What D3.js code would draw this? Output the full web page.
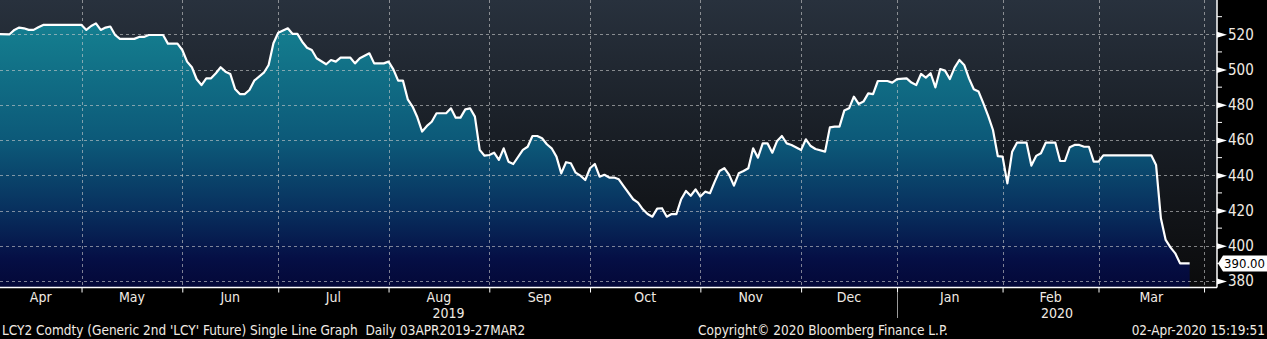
<!DOCTYPE html>
<html>
<head>
<meta charset="utf-8">
<script src="https://cdn.jsdelivr.net/npm/d3@7"></script>
<style>
  html, body { margin: 0; padding: 0; background: #000; }
  svg { display: block; }
  text { font-family: "Liberation Sans Narrow", "DejaVu Sans Condensed", "Arial Narrow", sans-serif; }
</style>
</head>
<body>
<div id="chart"></div>
<script>
// LCY2 Comdty daily closes (trading days)
const dates = [
  "2019-04-03","2019-04-08","2019-04-09","2019-04-10","2019-04-11","2019-04-12","2019-04-15","2019-04-16","2019-04-17",
  "2019-05-01","2019-05-02","2019-05-03","2019-05-07","2019-05-08","2019-05-09","2019-05-10","2019-05-13","2019-05-14",
  "2019-05-17","2019-05-20","2019-05-21","2019-05-22","2019-05-28","2019-05-29","2019-05-31",
  "2019-06-03","2019-06-04","2019-06-05","2019-06-06","2019-06-07","2019-06-10","2019-06-11","2019-06-12","2019-06-13",
  "2019-06-14","2019-06-17","2019-06-18","2019-06-19","2019-06-20","2019-06-21","2019-06-24","2019-06-26","2019-06-27","2019-06-28",
  "2019-07-01","2019-07-03","2019-07-04","2019-07-05","2019-07-08","2019-07-09","2019-07-10","2019-07-11","2019-07-15",
  "2019-07-16","2019-07-17","2019-07-18","2019-07-22","2019-07-23","2019-07-24","2019-07-26","2019-07-29","2019-07-31",
  "2019-08-01","2019-08-02","2019-08-05","2019-08-06","2019-08-07","2019-08-08","2019-08-09","2019-08-12","2019-08-13",
  "2019-08-14","2019-08-15","2019-08-19","2019-08-20","2019-08-21","2019-08-22","2019-08-23","2019-08-27","2019-08-28",
  "2019-08-29","2019-08-30",
  "2019-09-02","2019-09-03","2019-09-04","2019-09-05","2019-09-06","2019-09-09","2019-09-11","2019-09-12","2019-09-13",
  "2019-09-16","2019-09-17","2019-09-18","2019-09-19","2019-09-20","2019-09-23","2019-09-24","2019-09-25","2019-09-26",
  "2019-09-27","2019-09-30",
  "2019-10-01","2019-10-02","2019-10-03","2019-10-04","2019-10-07","2019-10-08","2019-10-09","2019-10-10","2019-10-14",
  "2019-10-15","2019-10-16","2019-10-17","2019-10-18","2019-10-21","2019-10-22","2019-10-23","2019-10-24","2019-10-25",
  "2019-10-28","2019-10-29","2019-10-30","2019-10-31",
  "2019-11-01","2019-11-04","2019-11-05","2019-11-06","2019-11-07","2019-11-08","2019-11-11","2019-11-12","2019-11-13",
  "2019-11-14","2019-11-15","2019-11-18","2019-11-19","2019-11-20","2019-11-21","2019-11-22","2019-11-25","2019-11-26",
  "2019-11-27","2019-11-28",
  "2019-12-02","2019-12-03","2019-12-04","2019-12-05","2019-12-09","2019-12-10","2019-12-11","2019-12-12","2019-12-13",
  "2019-12-16","2019-12-17","2019-12-18","2019-12-19","2019-12-20","2019-12-23","2019-12-24","2019-12-30","2019-12-31",
  "2020-01-02","2020-01-06","2020-01-07","2020-01-08","2020-01-09","2020-01-10","2020-01-13","2020-01-14","2020-01-15",
  "2020-01-16","2020-01-17","2020-01-20","2020-01-21","2020-01-22","2020-01-23","2020-01-24","2020-01-27","2020-01-28",
  "2020-01-29","2020-01-30","2020-01-31",
  "2020-02-03","2020-02-04","2020-02-05","2020-02-06","2020-02-10","2020-02-11","2020-02-12","2020-02-13","2020-02-14",
  "2020-02-18","2020-02-19","2020-02-20","2020-02-21","2020-02-24","2020-02-25","2020-02-26","2020-02-27","2020-02-28",
  "2020-03-02","2020-03-03","2020-03-17","2020-03-18","2020-03-19","2020-03-20","2020-03-23","2020-03-24","2020-03-25",
  "2020-03-27"
];
const prices = [
  520.2,520.0,522.5,523.8,523.4,522.5,522.5,524.0,525.3,
  525.3,522.5,524.7,526.2,522.5,523.8,524.4,519.6,517.4,
  517.4,518.5,518.5,519.6,519.6,514.7,514.7,
  511.1,504.5,501.3,494.5,491.2,495.0,495.0,497.9,501.3,
  498.8,497.5,489.0,486.1,486.1,488.4,493.7,498.2,502.6,514.9,
  520.9,523.4,520.2,520.2,515.8,512.4,511.1,506.4,503.0,
  505.4,504.5,506.8,506.8,503.5,506.4,509.2,503.5,503.5,
  504.5,500.1,493.7,493.7,483.1,479.0,472.9,464.8,468.0,
  470.4,475.2,475.2,478.0,472.7,472.7,477.4,478.0,473.3,
  454.4,451.1,
  451.5,452.8,448.7,455.3,447.7,446.4,454.4,456.2,462.3,
  462.3,461.0,457.6,455.3,450.6,441.1,447.4,446.8,441.5,
  439.8,437.3,
  444.0,446.4,439.2,440.3,438.7,438.7,437.7,433.9,426.4,
  424.5,420.7,418.0,416.5,421.1,421.3,416.5,418.0,418.0,
  426.4,431.1,428.4,432.0,
  427.9,430.7,429.8,436.4,442.4,444.0,440.2,434.1,441.1,
  442.4,444.0,455.3,450.0,458.1,458.1,452.8,459.5,462.3,
  458.1,457.2,
  454.4,460.4,456.6,454.9,453.4,467.2,467.6,467.6,476.7,
  478.0,484.6,480.5,481.8,486.5,486.1,493.5,493.5,492.6,
  494.6,495.0,492.6,491.2,497.5,495.4,497.9,489.9,500.3,
  499.4,494.6,501.1,505.4,502.6,495.0,488.8,487.5,480.8,
  473.7,465.7,450.9,
  450.6,435.4,453.4,458.5,458.5,445.5,451.0,452.5,458.5,
  458.5,448.1,448.1,455.9,457.2,457.2,456.2,456.2,447.7,
  447.7,451.3,451.3,445.8,415.6,403.3,399.1,395.7,390.0,
  390.0
];
// market holidays left out of the trading-day axis
const holidays = ["2019-04-19","2019-04-22","2019-05-06","2019-05-27","2019-08-26","2019-12-25","2019-12-26","2020-01-01"];
const monthLabels = ["Apr","May","Jun","Jul","Aug","Sep","Oct","Nov","Dec","Jan","Feb","Mar"];
const yearLabels = ["2019","2020"];
const yTicks = [380, 400, 420, 440, 460, 480, 500, 520];
const yMinorTicks = [390, 410, 430, 450, 470, 490, 510, 530, 540];

const W = 1267, H = 339;
const PLOT = { LEFT: 0, RIGHT: 1217, TOP: 0, BOTTOM: 287.5 };
const STEP = 4.797;
const TEXT = "#f1ebe4";

const fmt = d3.timeFormat("%Y-%m-%d");

// trading-day calendar (weekdays minus holidays)
const days = d3.timeDay.range(new Date(2019, 3, 3), new Date(2020, 3, 4))
  .filter(d => d.getDay() !== 0 && d.getDay() !== 6)
  .map(fmt)
  .filter(d => !holidays.includes(d));

const data = dates.map((d, i) => ({ date: d, value: prices[i] }));

const x = d3.scalePoint()
  .domain(days)
  .range([-4.8, -4.8 + (days.length - 1) * STEP]);

const y = d3.scaleLinear()
  .domain([380, 520])
  .range([281, 34.3]);

// first trading day of every month
const monthStarts = days.filter((d, i) => i > 0 && d.slice(5, 7) !== days[i - 1].slice(5, 7));

const svg = d3.select("#chart").append("svg")
  .attr("width", W)
  .attr("height", H);

const defs = svg.append("defs");

const bg = defs.append("linearGradient").attr("id", "bg")
  .attr("gradientUnits", "userSpaceOnUse")
  .attr("x1", 0).attr("y1", PLOT.TOP).attr("x2", 0).attr("y2", PLOT.BOTTOM);
bg.append("stop").attr("offset", 0).attr("stop-color", "#28313d");
bg.append("stop").attr("offset", 0.5).attr("stop-color", "#181d24");
bg.append("stop").attr("offset", 1).attr("stop-color", "#0b0b0c");

const fill = defs.append("linearGradient").attr("id", "fill")
  .attr("gradientUnits", "userSpaceOnUse")
  .attr("x1", 0).attr("y1", PLOT.TOP).attr("x2", 0).attr("y2", PLOT.BOTTOM);
fill.append("stop").attr("offset", 0).attr("stop-color", "#178597");
fill.append("stop").attr("offset", 0.15).attr("stop-color", "#13798c");
fill.append("stop").attr("offset", 0.5).attr("stop-color", "#0c5878");
fill.append("stop").attr("offset", 0.73).attr("stop-color", "#08305e");
fill.append("stop").attr("offset", 0.9).attr("stop-color", "#050f45");
fill.append("stop").attr("offset", 1).attr("stop-color", "#040838");

defs.append("clipPath").attr("id", "clip")
  .append("rect")
  .attr("x", PLOT.LEFT).attr("y", PLOT.TOP)
  .attr("width", PLOT.RIGHT - PLOT.LEFT).attr("height", PLOT.BOTTOM - PLOT.TOP);

svg.append("rect").attr("width", W).attr("height", H).attr("fill", "#000");
svg.append("rect")
  .attr("x", PLOT.LEFT).attr("y", PLOT.TOP)
  .attr("width", PLOT.RIGHT - PLOT.LEFT).attr("height", PLOT.BOTTOM - PLOT.TOP)
  .attr("fill", "url(#bg)");

const plot = svg.append("g").attr("clip-path", "url(#clip)");

const area = d3.area()
  .x(d => x(d.date))
  .y0(PLOT.BOTTOM)
  .y1(d => y(d.value));

const line = d3.line()
  .x(d => x(d.date))
  .y(d => y(d.value));

plot.append("path")
  .datum(data)
  .attr("d", area)
  .attr("fill", "url(#fill)");

// grid
plot.append("g")
  .selectAll("line")
  .data(yTicks)
  .join("line")
  .attr("x1", PLOT.LEFT).attr("x2", PLOT.RIGHT)
  .attr("y1", d => Math.round(y(d)) + 0.5).attr("y2", d => Math.round(y(d)) + 0.5)
  .attr("stroke", "rgba(205,205,205,0.6)")
  .attr("stroke-dasharray", "3,3");

plot.append("g")
  .selectAll("line")
  .data(monthStarts)
  .join("line")
  .attr("x1", d => Math.round(x(d)) + 0.5).attr("x2", d => Math.round(x(d)) + 0.5)
  .attr("y1", PLOT.TOP).attr("y2", PLOT.BOTTOM)
  .attr("stroke", "rgba(205,205,205,0.6)")
  .attr("stroke-dasharray", "3,3");

plot.append("path")
  .datum(data)
  .attr("d", line)
  .attr("fill", "none")
  .attr("stroke", "#fff")
  .attr("stroke-width", 2.2)
  .attr("stroke-linejoin", "round");

// axis frame
svg.append("line")
  .attr("x1", PLOT.LEFT).attr("x2", PLOT.RIGHT)
  .attr("y1", PLOT.BOTTOM).attr("y2", PLOT.BOTTOM)
  .attr("stroke", "#fff").attr("stroke-width", 1.5);
svg.append("line")
  .attr("x1", PLOT.RIGHT).attr("x2", PLOT.RIGHT)
  .attr("y1", PLOT.TOP).attr("y2", PLOT.BOTTOM)
  .attr("stroke", "#fff").attr("stroke-width", 1.5);

// right axis
const yAxis = svg.append("g")
  .attr("transform", `translate(${PLOT.RIGHT},0)`)
  .call(d3.axisRight(y).tickValues(yTicks).tickSize(0).tickPadding(11).tickFormat(d3.format("d")));
yAxis.select(".domain").remove();
yAxis.selectAll(".tick text")
  .attr("fill", TEXT)
  .attr("font-size", 15);
yAxis.selectAll(".tick")
  .append("path")
  .attr("d", "M0,-3L10,0L0,3Z")
  .attr("fill", "#fff");

svg.append("g")
  .selectAll("line")
  .data(yMinorTicks)
  .join("line")
  .attr("x1", PLOT.RIGHT).attr("x2", PLOT.RIGHT + 5)
  .attr("y1", d => y(d)).attr("y2", d => y(d))
  .attr("stroke", "#fff");

// bottom axis ticks
const xAxis = svg.append("g")
  .attr("transform", `translate(0,${PLOT.BOTTOM})`)
  .call(d3.axisBottom(x).tickValues(monthStarts).tickSize(5).tickFormat(""));
xAxis.select(".domain").remove();
xAxis.selectAll(".tick line").attr("stroke", "#fff");

const bounds = [PLOT.LEFT].concat(monthStarts.map(d => x(d)));
svg.append("g")
  .selectAll("text")
  .data(monthLabels)
  .join("text")
  .attr("x", (d, i) => (bounds[i] + bounds[i + 1]) / 2)
  .attr("y", 302)
  .attr("text-anchor", "middle")
  .attr("fill", TEXT)
  .attr("font-size", 14)
  .text(d => d);

const janX = x(monthStarts.find(d => d.startsWith("2020-01")));
const yearBounds = [PLOT.LEFT, janX, PLOT.RIGHT];
svg.append("g")
  .selectAll("text")
  .data(yearLabels)
  .join("text")
  .attr("x", (d, i) => (yearBounds[i] + yearBounds[i + 1]) / 2)
  .attr("y", 318)
  .attr("text-anchor", "middle")
  .attr("fill", TEXT)
  .attr("font-size", 14)
  .text(d => d);

svg.append("line")
  .attr("x1", Math.round(janX) + 0.5).attr("x2", Math.round(janX) + 0.5)
  .attr("y1", 292).attr("y2", 318)
  .attr("stroke", "#9a9a9a");

// last value tag
const last = data[data.length - 1];
const ly = y(last.value);
svg.append("path")
  .attr("d", `M${PLOT.RIGHT + 1},${ly} L${PLOT.RIGHT + 6},${ly - 8} L${W},${ly - 8} L${W},${ly + 8} L${PLOT.RIGHT + 6},${ly + 8} Z`)
  .attr("fill", "#fff");
svg.append("text")
  .attr("x", W - 2)
  .attr("y", ly)
  .attr("dy", "0.35em")
  .attr("text-anchor", "end")
  .attr("fill", "#000")
  .attr("font-size", 13)
  .text(last.value.toFixed(2));

// footer
const footer = svg.append("g").attr("fill", TEXT).attr("font-size", 13.5);
footer.append("text").attr("x", 2).attr("y", 335)
  .attr("xml:space", "preserve")
  .text("LCY2 Comdty (Generic 2nd 'LCY' Future) Single Line Graph  Daily 03APR2019-27MAR2");
footer.append("text").attr("x", 823).attr("y", 335).attr("text-anchor", "middle")
  .text("Copyright\u00a9 2020 Bloomberg Finance L.P.");
footer.append("text").attr("x", 1265).attr("y", 335).attr("text-anchor", "end")
  .text("02-Apr-2020 15:19:51");
</script>
</body>
</html>
